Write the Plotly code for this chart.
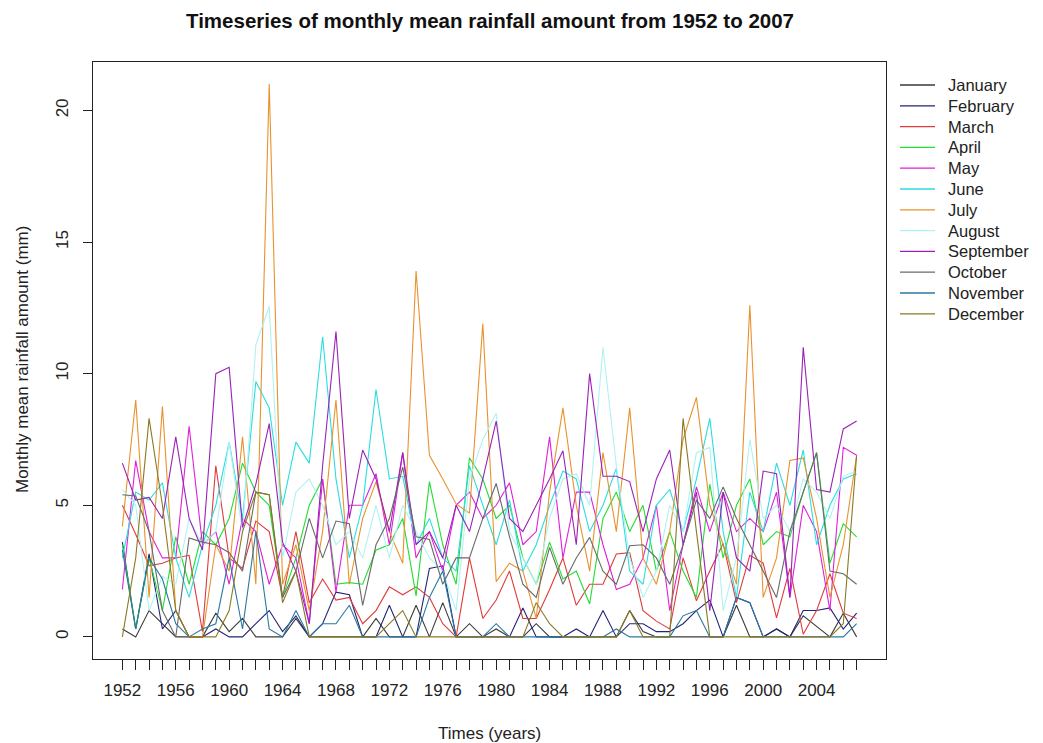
import plotly.graph_objects as go

years = list(range(1952, 2008))

months = ["January", "February", "March", "April", "May", "June", "July",
          "August", "September", "October", "November", "December"]

colors = ["#3a3a3a", "#23237a", "#e03a3a", "#22dd33", "#e020d8", "#2adde0",
          "#e8922e", "#b0f2f2", "#9a22b8", "#6a6a6a", "#2a78a0", "#8b7a22"]

january = [0.3, 0.0, 1.0, 0.5, 0.0, 0.0, 0.0, 0.9, 0.2, 0.7, 0.0, 0.0, 0.0, 0.7,
           0.0, 0.0, 0.0, 0.0, 0.0, 0.7, 0.0, 0.0, 1.2, 0.0, 1.3, 0.0, 0.5, 0.0,
           0.3, 0.0, 0.0, 0.5, 0.0, 0.0, 0.0, 0.0, 0.0, 0.0, 1.0, 0.2, 0.0, 0.0,
           0.0, 0.0, 0.0, 0.0, 1.2, 0.0, 0.0, 0.3, 0.0, 0.8, 0.4, 0.0, 0.9, 0.0]
february = [3.6, 0.3, 3.15, 0.3, 1.0, 0.0, 0.0, 0.3, 0.0, 0.0, 0.5, 1.0, 0.2, 0.8,
            0.0, 0.5, 1.7, 1.6, 0.0, 0.0, 1.2, 0.0, 0.0, 2.6, 2.7, 0.0, 0.0, 0.0,
            0.0, 0.0, 1.1, 0.0, 0.0, 0.0, 0.3, 0.0, 1.0, 0.0, 0.5, 0.5, 0.2, 0.2,
            0.5, 1.0, 1.4, 0.0, 1.5, 1.3, 0.0, 0.3, 0.0, 1.0, 1.0, 1.1, 0.3, 0.9]
march = [5.0, 3.9, 2.7, 2.8, 3.0, 3.1, 0.2, 6.5, 3.0, 2.6, 4.4, 4.0, 1.5, 4.0,
         1.3, 2.2, 1.4, 1.5, 0.5, 1.0, 1.9, 1.6, 1.9, 1.5, 0.5, 0.0, 3.0, 0.7,
         1.4, 2.5, 0.7, 0.7, 1.8, 3.0, 1.2, 2.0, 2.0, 3.15, 3.2, 1.0, 0.6, 0.3,
         3.0, 1.37, 2.5, 3.55, 1.3, 3.1, 2.8, 0.72, 2.6, 0.1, 1.0, 2.4, 0.9, 0.7]
april = [3.5, 0.3, 3.0, 1.0, 3.8, 2.0, 4.0, 3.5, 4.5, 6.6, 5.5, 5.0, 1.5, 3.0,
         5.0, 6.0, 2.0, 2.06, 2.0, 3.3, 3.5, 4.5, 1.56, 5.9, 3.5, 2.0, 6.8, 6.0,
         4.5, 5.0, 3.0, 2.0, 3.6, 2.2, 2.5, 1.25, 4.5, 5.5, 4.0, 5.0, 2.5, 4.0,
         2.5, 1.5, 5.8, 3.0, 5.0, 6.0, 3.5, 4.0, 3.8, 5.5, 7.0, 2.8, 4.3, 3.8]
may = [1.8, 6.7, 4.0, 3.0, 3.0, 8.0, 3.5, 4.0, 2.0, 4.5, 4.0, 2.0, 3.5, 3.0,
       0.5, 6.0, 1.7, 5.0, 5.0, 6.2, 3.5, 7.0, 3.0, 4.0, 2.5, 5.0, 5.5, 4.5,
       5.0, 5.85, 3.5, 4.0, 7.6, 3.0, 5.5, 5.5, 3.5, 1.8, 2.0, 3.0, 5.0, 1.0,
       3.5, 5.7, 4.0, 5.5, 4.0, 4.5, 4.0, 5.5, 1.5, 5.0, 4.0, 1.0, 7.2, 6.9]
june = [3.0, 5.5, 5.2, 5.85, 3.0, 1.5, 3.5, 5.0, 7.4, 4.5, 9.7, 8.7, 5.0, 7.4,
        6.6, 11.4, 6.0, 3.0, 5.0, 9.4, 6.0, 6.1, 3.5, 4.5, 3.0, 2.5, 6.5, 5.0,
        3.5, 5.2, 2.5, 3.5, 5.0, 6.3, 6.0, 4.0, 5.0, 6.4, 2.5, 2.0, 5.0, 5.6,
        4.0, 6.0, 8.3, 4.0, 1.5, 5.5, 4.0, 6.6, 5.0, 7.1, 3.5, 5.0, 6.0, 6.2]
july = [4.2, 9.0, 1.5, 8.75, 1.0, 0.0, 0.0, 3.5, 2.5, 7.6, 2.0, 21.0, 2.0, 3.5,
        1.0, 4.0, 9.0, 2.0, 4.5, 5.9, 4.0, 2.8, 13.9, 6.9, 6.0, 5.05, 4.7, 11.9,
        2.1, 2.8, 2.5, 0.7, 5.5, 8.7, 5.0, 2.5, 7.0, 4.0, 8.7, 3.0, 2.0, 4.0,
        7.5, 9.1, 5.0, 3.5, 2.0, 12.6, 1.5, 3.0, 6.7, 6.8, 4.5, 1.5, 3.5, 6.9]
august = [5.6, 5.0, 1.0, 2.3, 2.0, 4.5, 3.5, 4.0, 7.4, 4.0, 11.1, 12.55, 3.0, 5.5,
          6.0, 5.0, 3.5, 4.0, 3.0, 5.0, 3.0, 5.0, 4.0, 3.0, 2.5, 1.0, 6.0, 7.5,
          8.5, 4.0, 3.0, 2.0, 4.5, 6.0, 6.2, 5.0, 11.0, 6.5, 3.0, 1.5, 2.5, 5.0,
          4.0, 7.0, 7.2, 1.0, 3.0, 7.5, 4.5, 5.0, 4.0, 6.0, 5.5, 4.5, 6.1, 6.3]
september = [6.6, 5.2, 5.3, 4.5, 7.6, 4.5, 3.3, 10.0, 10.24, 4.16, 5.8, 8.1, 3.6, 2.5,
             0.5, 6.5, 11.6, 4.5, 7.1, 6.0, 4.0, 7.0, 3.5, 4.0, 3.0, 5.0, 4.0, 6.0,
             8.2, 4.5, 4.0, 5.0, 6.0, 7.07, 3.5, 10.0, 6.1, 6.1, 5.9, 4.0, 6.0, 7.1,
             3.5, 5.5, 1.0, 5.5, 3.0, 2.5, 6.3, 6.2, 1.5, 11.0, 5.6, 5.5, 7.9, 8.2]
october = [5.4, 5.35, 4.0, 1.0, 0.0, 3.76, 3.6, 3.5, 3.2, 2.5, 5.5, 5.4, 1.5, 2.5,
           4.5, 3.0, 4.4, 4.3, 1.2, 3.5, 4.5, 6.45, 3.8, 3.7, 2.0, 3.0, 3.0, 4.5,
           5.83, 3.8, 2.0, 1.5, 3.4, 2.0, 3.0, 3.78, 2.5, 2.0, 3.46, 3.5, 3.0, 2.0,
           3.5, 5.2, 4.5, 5.7, 4.5, 3.5, 2.5, 1.5, 4.0, 5.5, 7.0, 2.5, 2.4, 2.0]
november = [3.3, 0.3, 3.0, 2.2, 0.5, 0.0, 0.3, 0.5, 3.0, 0.3, 4.0, 0.3, 0.0, 1.0,
            0.0, 0.5, 0.5, 1.2, 0.0, 0.0, 0.0, 0.0, 0.0, 1.5, 2.5, 0.0, 0.0, 0.0,
            0.5, 0.0, 0.0, 0.0, 0.0, 0.0, 0.0, 0.0, 0.0, 0.3, 0.0, 0.0, 0.0, 0.0,
            0.8, 1.0, 0.0, 0.0, 1.5, 1.3, 0.0, 0.0, 0.0, 0.0, 0.0, 0.0, 0.0, 0.5]
december = [0.0, 3.0, 8.3, 5.0, 1.0, 0.0, 0.0, 0.0, 1.0, 4.0, 5.5, 5.4, 1.3, 2.5,
            0.0, 0.0, 0.0, 0.0, 0.0, 0.0, 0.5, 1.0, 0.0, 0.0, 0.0, 0.0, 0.0, 0.0,
            0.0, 0.0, 0.0, 1.3, 0.5, 0.0, 0.0, 0.0, 0.0, 0.0, 1.0, 0.0, 0.0, 0.0,
            8.3, 4.0, 0.0, 0.0, 0.0, 0.0, 0.0, 0.0, 0.0, 0.0, 0.0, 0.0, 0.5, 6.9]

series = [january, february, march, april, may, june, july,
          august, september, october, november, december]

x_tick_labels = list(range(1952, 2005, 4))
y_tick_labels = [0, 5, 10, 15, 20]

fig = go.Figure()
for name, vals, col in zip(months, series, colors):
    fig.add_trace(go.Scatter(x=years, y=vals, mode="lines", name=name,
                             line=dict(color=col, width=1.1), showlegend=False))

FONT = "Liberation Sans, Arial, sans-serif"
L, R, T, B = 93, 886, 62, 659
PW, PH = R - L, B - T


def px(xp):
    return (xp - L) / PW


def py(yp):
    return (B - yp) / PH


# manual legend in the right margin (R-style, no box)
shapes = []
annotations = []
for i, (name, col) in enumerate(zip(months, colors)):
    yy = 85 + i * 20.8
    shapes.append(dict(type="line", xref="paper", yref="paper",
                       x0=px(900), x1=px(935), y0=py(yy), y1=py(yy),
                       line=dict(color=col, width=1.3)))
    annotations.append(dict(text=name, xref="paper", yref="paper",
                            x=px(946), y=py(yy), xanchor="left",
                            yanchor="middle", showarrow=False,
                            font=dict(size=16.5, color="#222")))

annotations += [
    dict(text="<b>Timeseries of monthly mean rainfall amount from 1952 to 2007</b>",
         xref="paper", yref="paper", x=px(490), y=py(21),
         xanchor="center", yanchor="middle", showarrow=False,
         font=dict(size=20.5, color="#111")),
    dict(text="Times (years)", xref="paper", yref="paper", x=px(489),
         y=py(733), xanchor="center", yanchor="middle",
         showarrow=False, font=dict(size=17, color="#222")),
    dict(text="Monthly mean rainfall amount (mm)", xref="paper",
         yref="paper", x=px(22), y=py(360), xanchor="center",
         yanchor="middle", textangle=-90, showarrow=False,
         font=dict(size=17, color="#222")),
]

fig.update_layout(
    width=1043, height=743,
    margin=dict(l=L, r=1043 - R, t=T, b=743 - B),
    paper_bgcolor="white", plot_bgcolor="white",
    font=dict(family=FONT, size=17, color="#222"),
    showlegend=False,
    xaxis=dict(range=[1949.8, 2009.2], tickmode="array", tickvals=x_tick_labels,
               ticktext=[str(v) for v in x_tick_labels],
               ticks="outside", ticklen=10, tickcolor="#222", tickwidth=1,
               ticklabelstandoff=6,
               minor=dict(tickmode="array", tickvals=years, ticks="outside",
                          ticklen=10, tickcolor="#222", showgrid=False),
               showgrid=False, zeroline=False, showline=True, linecolor="#222",
               linewidth=1, mirror=True, tickfont=dict(size=17)),
    yaxis=dict(range=[-0.84, 21.84], tickmode="array", tickvals=y_tick_labels,
               ticktext=[str(v) for v in y_tick_labels], tickangle=-90,
               ticks="outside", ticklen=9, tickcolor="#222", tickwidth=1,
               ticklabelstandoff=8,
               showgrid=False, zeroline=False, showline=True, linecolor="#222",
               linewidth=1, mirror=True, tickfont=dict(size=17)),
    shapes=shapes,
    annotations=annotations,
)

fig.write_html("out.html")
